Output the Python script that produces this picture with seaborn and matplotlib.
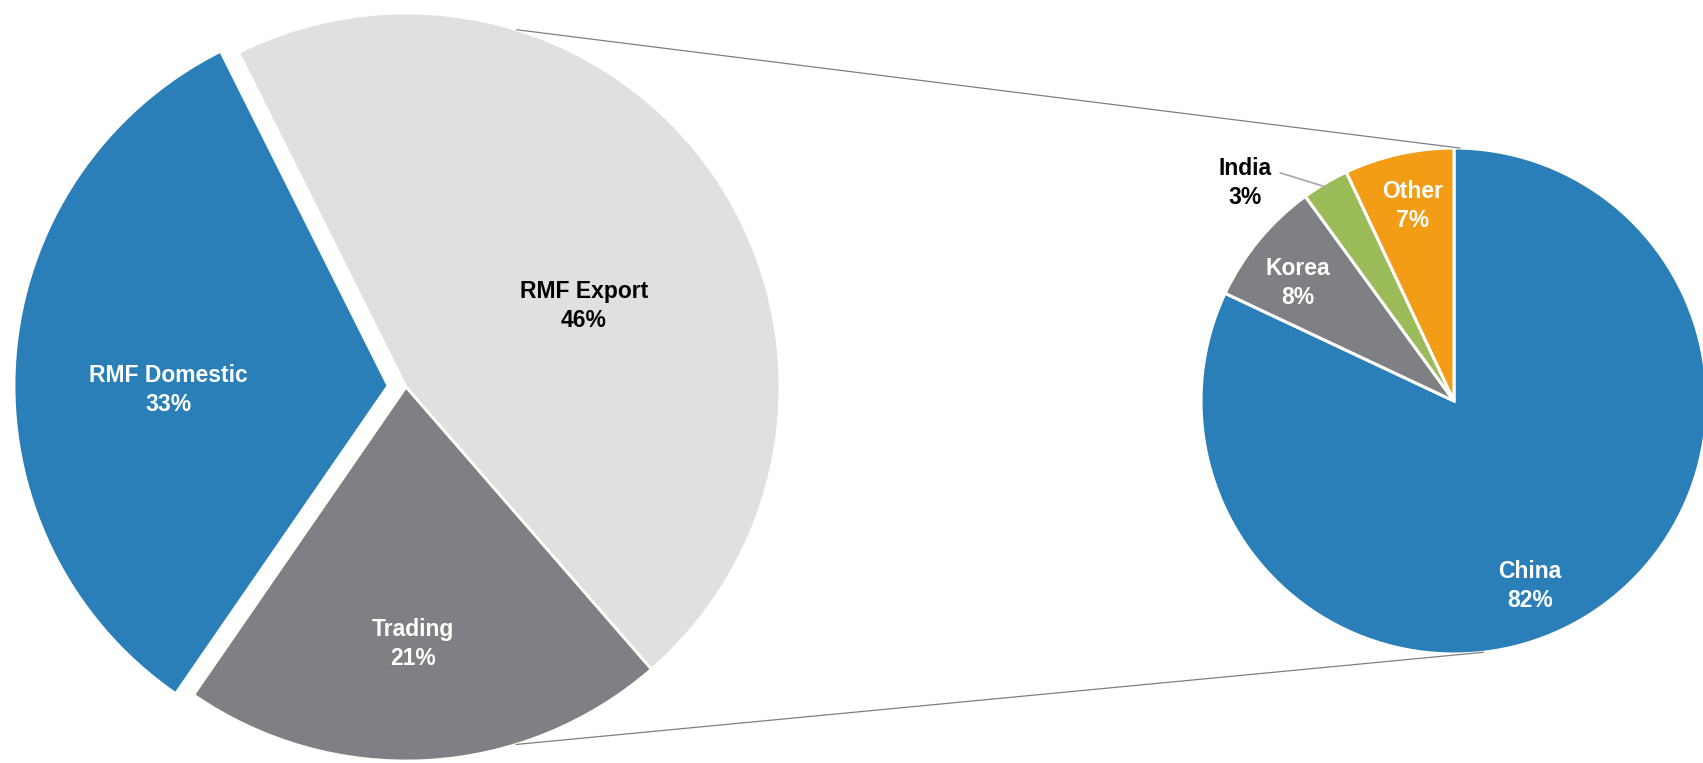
import numpy as np
import matplotlib
matplotlib.use("Agg")
import matplotlib.pyplot as plt
import seaborn as sns

# left pie: revenue split
seg_labels = ["RMF Export", "Trading", "RMF Domestic"]
seg_values = [46, 21, 33]
seg_colors = ["#E0E0E0", "#7F8084", "#2A7FB8"]
seg_text_colors = ["black", "white", "white"]

# right pie: export destinations
dest_labels = ["China", "Korea", "India", "Other"]
dest_values = [82, 8, 3, 7]
dest_colors = ["#2A7FB8", "#7F8084", "#9BBB59", "#F39C16"]
dest_text_colors = ["white", "white", "black", "white"]

W, H = 1703, 763

sns.set_theme(style="white")
plt.rcParams['font.family'] = ['Liberation Sans', 'DejaVu Sans']

fig = plt.figure(figsize=(W / 100, H / 100), dpi=100)
ax = fig.add_axes([0, 0, 1, 1])

# pie geometry in pixel space (y measured from top, flipped below)
left_c, left_r = (406, 387), 374
right_c, right_r = (1454, 401), 253

def flip(p):
    return (p[0], H - p[1])

wedges_l, _ = ax.pie(seg_values, colors=seg_colors, startangle=116.6,
                     counterclock=False, center=flip(left_c), radius=left_r,
                     explode=[0, 0, 18],
                     wedgeprops=dict(edgecolor="white", linewidth=2))
wedges_r, _ = ax.pie(dest_values, colors=dest_colors, startangle=90,
                     counterclock=False, center=flip(right_c), radius=right_r,
                     wedgeprops=dict(edgecolor="white", linewidth=2.2))

# label positions (pixels from top-left)
seg_pos = [(584, 306), (413, 644), (168, 390)]
dest_pos = [(1530, 586), (1298, 283), (1245, 183), (1413, 206)]

txt_kw = dict(ha="center", va="center", fontsize=16.5, fontweight="bold",
              linespacing=1.3, zorder=5)

for lab, val, pos, col in zip(seg_labels, seg_values, seg_pos, seg_text_colors):
    x, y = flip(pos)
    ax.text(x, y, f"{lab}\n{val}%", color=col, **txt_kw)

for lab, val, pos, col in zip(dest_labels, dest_values, dest_pos, dest_text_colors):
    x, y = flip(pos)
    if lab == "India":
        # leader line to the small slice
        w = wedges_r[2]
        mid = np.deg2rad((w.theta1 + w.theta2) / 2)
        tip = (w.center[0] + 0.98 * right_r * np.cos(mid),
               w.center[1] + 0.98 * right_r * np.sin(mid))
        ax.annotate(f"{lab}\n{val}%", xy=tip, xytext=(x, y), color=col,
                    arrowprops=dict(arrowstyle="-", color="#A6A6A6", lw=1.2,
                                    relpos=(1, 0.75), shrinkA=4, shrinkB=0),
                    **txt_kw)
    else:
        ax.text(x, y, f"{lab}\n{val}%", color=col, **txt_kw)

# connector lines between the pies
lc = np.array(flip(left_c), dtype=float)
rc = np.array(flip(right_c), dtype=float)
for a_left, a_right in [(72.8, 88.6), (-72.9, -83.3)]:
    p0 = lc + left_r * np.array([np.cos(np.deg2rad(a_left)), np.sin(np.deg2rad(a_left))])
    p1 = rc + right_r * np.array([np.cos(np.deg2rad(a_right)), np.sin(np.deg2rad(a_right))])
    ax.plot([p0[0], p1[0]], [p0[1], p1[1]], color="#7F7F7F", lw=0.9, zorder=4)

ax.set_xlim(0, W)
ax.set_ylim(0, H)
ax.set_aspect("equal")
ax.axis("off")

fig.savefig("out.png", dpi=100, facecolor="white")
